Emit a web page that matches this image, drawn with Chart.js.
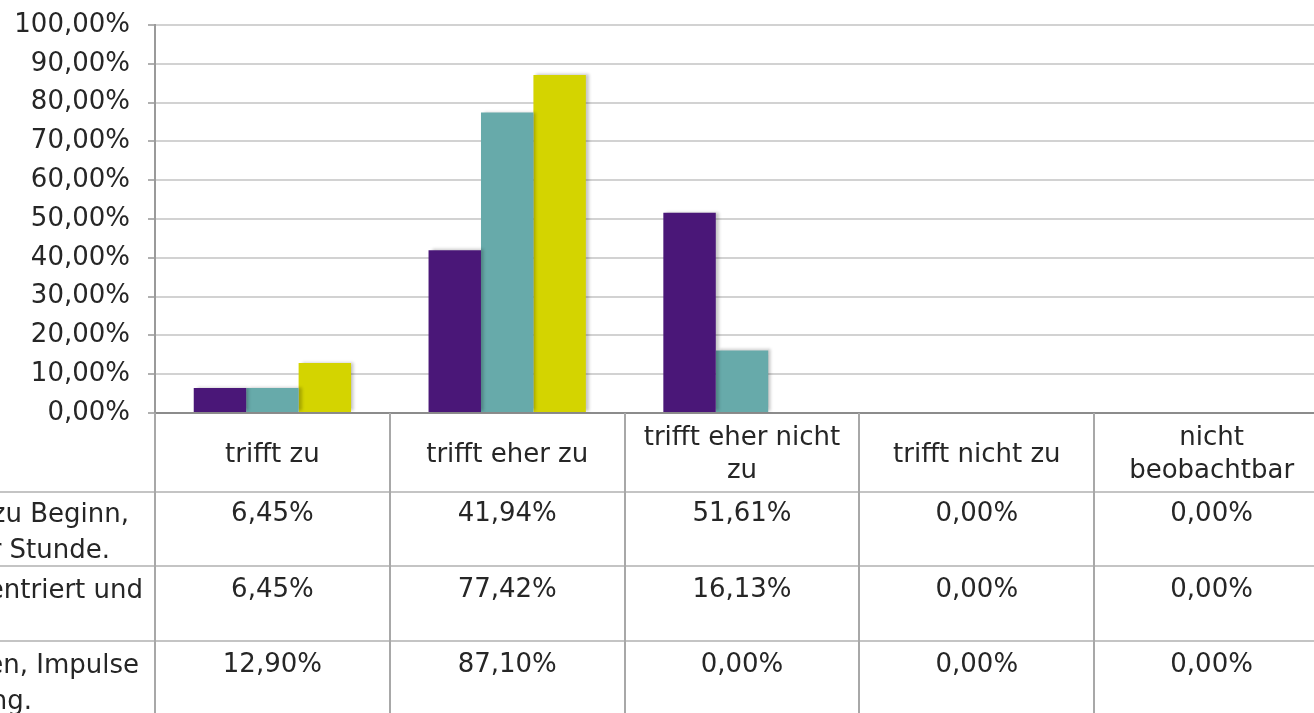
<!DOCTYPE html>
<html>
<head>
<meta charset="utf-8">
<script src="https://cdn.jsdelivr.net/npm/chart.js@4/dist/chart.umd.min.js"></script>
<style>
  html, body { margin: 0; padding: 0; background: #ffffff; overflow: hidden; width: 1314px; height: 713px; }
  #wrap { position: absolute; left: 0; top: 0; width: 1329px; height: 713px; }
</style>
</head>
<body>
<div id="wrap"><canvas id="c" width="1329" height="713"></canvas></div>
<script>
const categories = ["trifft zu", "trifft eher zu", "trifft eher nicht zu", "trifft nicht zu", "nicht beobachtbar"];
const categoryLines = [["trifft zu"], ["trifft eher zu"], ["trifft eher nicht", "zu"], ["trifft nicht zu"], ["nicht", "beobachtbar"]];
const series1Label = ["zu Beginn,", "r Stunde."];
const series2Label = ["entriert und"];
const series3Label = ["en, Impulse", "ng."];
const series1Values = [6.45, 41.94, 51.61, 0.00, 0.00];
const series2Values = [6.45, 77.42, 16.13, 0.00, 0.00];
const series3Values = [12.90, 87.10, 0.00, 0.00, 0.00];
const seriesColors = ["#4a1778", "#67aaaa", "#d4d400"];

const FONT = "DejaVu Sans";
const FS = 26;
const TXT = "#262626";

function fmt(v) { return v.toFixed(2).replace('.', ',') + '%'; }

const seriesList = [
  { label: series1Label, data: series1Values },
  { label: series2Label, data: series2Values },
  { label: series3Label, data: series3Values }
];

const tablePlugin = {
  id: 'dataTable',
  afterDraw(chart) {
    const ctx = chart.ctx;
    const xs = chart.scales.x;
    const area = chart.chartArea;
    const n = categories.length;
    const cw = (area.right - area.left) / n;
    const bottom = chart.height;
    const rowLines = [492, 566, 641];
    ctx.save();
    ctx.strokeStyle = "#c4c4c4";
    ctx.lineWidth = 2;
    rowLines.forEach(y => {
      ctx.beginPath(); ctx.moveTo(0, y); ctx.lineTo(chart.width, y); ctx.stroke();
    });
    ctx.strokeStyle = "#a8a8a8";
    for (let i = 0; i <= n; i++) {
      const x = Math.round(xs.getPixelForValue(i) - cw / 2);
      ctx.beginPath(); ctx.moveTo(x, area.bottom); ctx.lineTo(x, bottom); ctx.stroke();
    }
    ctx.fillStyle = TXT;
    ctx.font = FS + "px '" + FONT + "'";
    ctx.textBaseline = 'middle';
    ctx.textAlign = 'center';
    categoryLines.forEach((lines, i) => {
      const x = xs.getPixelForValue(i);
      if (lines.length === 1) {
        ctx.fillText(lines[0], x, 455);
      } else {
        ctx.fillText(lines[0], x, 438);
        ctx.fillText(lines[1], x, 471);
      }
    });
    const valueY = [514, 590, 665];
    seriesList.forEach((s, r) => {
      s.data.forEach((v, i) => {
        ctx.fillText(fmt(v), xs.getPixelForValue(i), valueY[r]);
      });
    });
    ctx.textAlign = 'right';
    ctx.fillText(series1Label[0], 129, 515);
    ctx.fillText(series1Label[1], 110, 551);
    ctx.fillText(series2Label[0], 143, 591);
    ctx.fillText(series3Label[0], 139, 666);
    ctx.fillText(series3Label[1], 32, 702);
    ctx.restore();
  }
};

const shadowPlugin = {
  id: 'barShadow',
  beforeDatasetsDraw(chart) {
    const ctx = chart.ctx;
    ctx.save();
    ctx.shadowColor = 'rgba(0,0,0,0.22)';
    ctx.shadowBlur = 3;
    ctx.shadowOffsetX = 3;
    ctx.shadowOffsetY = -1;
  },
  afterDatasetsDraw(chart) {
    chart.ctx.restore();
  }
};

new Chart(document.getElementById('c'), {
  type: 'bar',
  data: {
    labels: categories,
    datasets: seriesList.map((s, i) => ({
      label: s.label.join(' '),
      data: s.data,
      backgroundColor: seriesColors[i],
      borderWidth: 0,
      barPercentage: 1.0,
      categoryPercentage: 0.67
    }))
  },
  plugins: [shadowPlugin, tablePlugin],
  options: {
    responsive: false,
    animation: false,
    devicePixelRatio: 1,
    layout: { padding: { top: 25, left: 0, right: 0, bottom: 0 } },
    plugins: { legend: { display: false }, tooltip: { enabled: false } },
    scales: {
      x: {
        ticks: { display: false },
        grid: { display: false },
        border: { display: true, color: '#8c8c8c', width: 2 },
        afterFit(scale) { scale.height = 300; }
      },
      y: {
        min: 0, max: 100,
        ticks: {
          stepSize: 10,
          color: TXT,
          font: { family: FONT, size: FS },
          padding: 18,
          callback: v => fmt(v)
        },
        grid: { color: '#d2d2d2', lineWidth: 2, tickLength: 7, tickColor: '#b0b0b0' },
        border: { display: true, color: '#9a9a9a', width: 2 },
        afterFit(scale) { scale.width = 155; scale.paddingTop = 0; scale.paddingBottom = 0; }
      }
    }
  }
});
</script>
</body>
</html>
